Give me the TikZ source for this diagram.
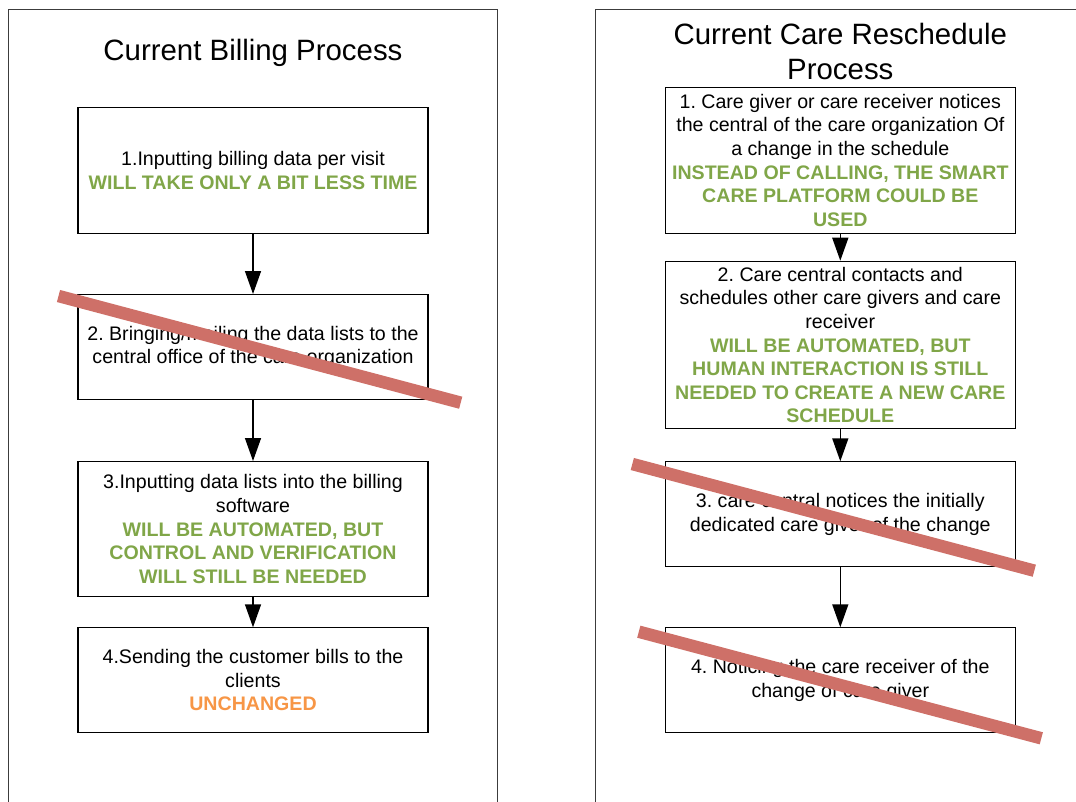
\documentclass[tikz,border=0pt]{standalone}
\usepackage{fontspec}
\setmainfont{Liberation Sans}
\usetikzlibrary{arrows.meta}
\frenchspacing
\definecolor{okgreen}{RGB}{128,166,72}
\definecolor{okorange}{RGB}{247,150,70}
\definecolor{strike}{RGB}{206,112,104}
\definecolor{panelline}{RGB}{60,60,60}
\newcommand{\gr}[1]{\textcolor{okgreen}{\bfseries #1}}
\newcommand{\orng}[1]{\textcolor{okorange}{\bfseries #1}}
\tikzset{
  panel/.style={draw=panelline, line width=1.2pt},
  stepbox/.style={draw=black, line width=1.1pt, minimum width=350pt, inner sep=0pt, align=center,
    font=\fontsize{19.6}{23.6}\selectfont\frenchspacing, anchor=north},
  titletext/.style={align=center, font=\fontsize{29.4}{35}\selectfont},
  flow/.style={draw=black, line width=1.4pt, -{Triangle[length=23pt,width=16pt]}},
  strikeout/.style={draw=strike, line width=12.5pt, line cap=butt}
}
\begin{document}
\begin{tikzpicture}[x=1pt,y=-1pt]
\useasboundingbox (0,0) rectangle (1076,801);
\begin{scope}
\clip (0,0) rectangle (1076,801);
% panels
\draw[panel] (8.5,830) -- (8.5,9.5) -- (497.5,9.5) -- (497.5,830);
\draw[panel] (595.5,830) -- (595.5,9.5) -- (1090,9.5);

% titles
\node[titletext] (t1) at (253,53) {Current Billing Process};
\node[titletext] (t2) at (840.3,51.5) {Current Care Reschedule\\Process};

% left boxes
\node[stepbox, minimum height=125.7pt] (l1) at (253,107) {1.Inputting billing data per visit\\\gr{WILL TAKE ONLY A BIT LESS TIME}};
\node[stepbox, minimum height=105pt] (l2) at (253,294) {2. Bringing/mailing the data lists to the\\central office of the care organization};
\node[stepbox, minimum height=135pt] (l3) at (253,461) {3.Inputting data lists into the billing\\software\\\gr{WILL BE AUTOMATED, BUT}\\\gr{CONTROL AND VERIFICATION}\\\gr{WILL STILL BE NEEDED}};
\node[stepbox, minimum height=105pt] (l4) at (253,627.3) {4.Sending the customer bills to the\\clients\\\orng{UNCHANGED}};

% right boxes
\node[stepbox, minimum height=146pt] (r1) at (840.3,86.7) {1. Care giver or care receiver notices\\the central of the care organization Of\\a change in the schedule\\\gr{INSTEAD OF CALLING, THE SMART}\\\gr{CARE PLATFORM COULD BE}\\\gr{USED}};
\node[stepbox, minimum height=167.6pt] (r2) at (840.3,260.7) {2. Care central contacts and\\schedules other care givers and care\\receiver\\\gr{WILL BE AUTOMATED, BUT}\\\gr{HUMAN INTERACTION IS STILL}\\\gr{NEEDED TO CREATE A NEW CARE}\\\gr{SCHEDULE}};
\node[stepbox, minimum height=104.7pt] (r3) at (840.3,461.3) {3. care central notices the initially\\dedicated care giver of the change};
\node[stepbox, minimum height=105pt] (r4) at (840.3,627.3) {4. Noticing the care receiver of the\\change of care giver};

% connectors
\draw[flow] (l1.south) -- (l2.north);
\draw[flow] (l2.south) -- (l3.north);
\draw[flow] (l3.south) -- (l4.north);
\draw[flow] (r1.south) -- (r2.north);
\draw[flow] (r2.south) -- (r3.north);
\draw[flow] (r3.south) -- (r4.north);

% strike-outs
\draw[strikeout] (58.5,296) -- (460.7,402.7);
\draw[strikeout] (632.3,464) -- (1034.3,570.7);
\draw[strikeout] (638.8,631.7) -- (1041.3,738.3);
\end{scope}
\end{tikzpicture}
\end{document}
